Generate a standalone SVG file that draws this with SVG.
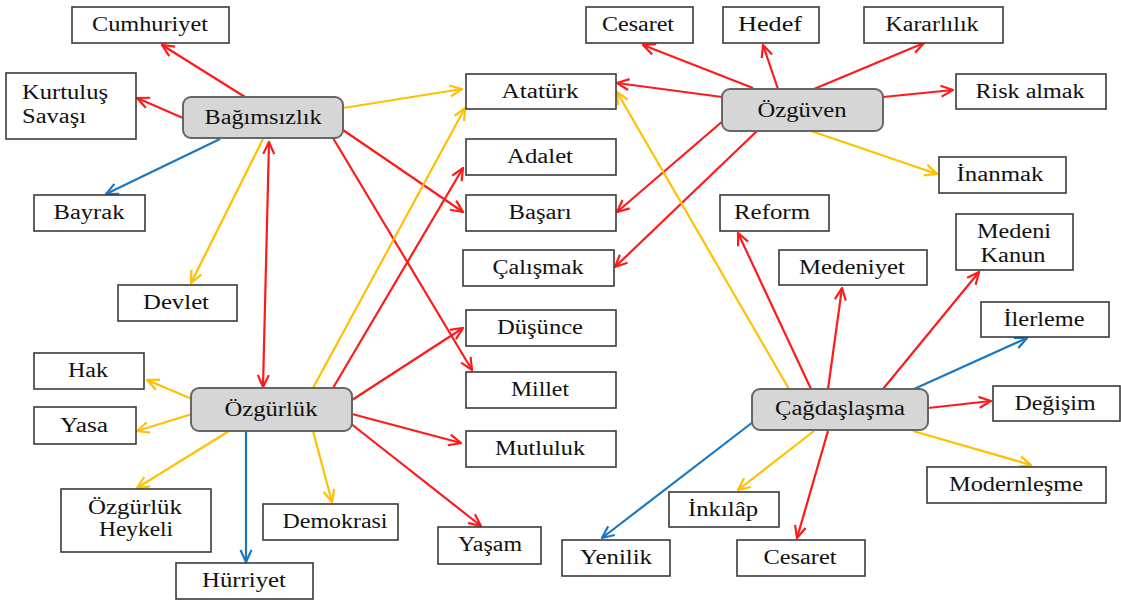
<svg xmlns="http://www.w3.org/2000/svg" width="1121" height="603" viewBox="0 0 1121 603">
<style>
.box{fill:#fff;stroke:#3a3a3a;stroke-width:1.6}
.hub{fill:#d6d6d6;stroke:#666;stroke-width:2}
text{font-size:20px;fill:#111;text-anchor:middle}
.l{text-anchor:start}
.r{stroke:#ff1a1a;stroke-width:2.2;fill:none;marker-end:url(#ar)}
.y{stroke:#ffc000;stroke-width:2.2;fill:none;marker-end:url(#ay)}
.b{stroke:#1a78c2;stroke-width:2.2;fill:none;marker-end:url(#ab)}
</style>
<defs>
<marker id="ar" viewBox="0 0 14 14" refX="13" refY="7" markerWidth="14" markerHeight="14" markerUnits="userSpaceOnUse" orient="auto-start-reverse"><path d="M1,1.5 L13,7 L1,12.5" fill="none" stroke="#ff1a1a" stroke-width="2.2"/></marker>
<marker id="ay" viewBox="0 0 14 14" refX="13" refY="7" markerWidth="14" markerHeight="14" markerUnits="userSpaceOnUse" orient="auto"><path d="M1,1.5 L13,7 L1,12.5" fill="none" stroke="#ffc000" stroke-width="2.2"/></marker>
<marker id="ab" viewBox="0 0 14 14" refX="13" refY="7" markerWidth="14" markerHeight="14" markerUnits="userSpaceOnUse" orient="auto"><path d="M1,1.5 L13,7 L1,12.5" fill="none" stroke="#1a78c2" stroke-width="2.2"/></marker>
</defs>
<rect width="1121" height="603" fill="#fff"/>
<g id="connectors">
<line class="r" x1="245" y1="97" x2="162" y2="45"/>
<line class="r" x1="183" y1="118" x2="137" y2="98"/>
<line class="b" x1="220" y1="139" x2="106" y2="194"/>
<line class="y" x1="263" y1="139" x2="191" y2="283"/>
<line class="r" x1="269" y1="142" x2="263" y2="387" style="marker-start:url(#ar)"/>
<line class="y" x1="343" y1="108" x2="462" y2="89"/>
<line class="r" x1="343" y1="130" x2="463" y2="212"/>
<line class="r" x1="333" y1="138" x2="472" y2="370"/>
<line class="y" x1="192" y1="399" x2="147" y2="380"/>
<line class="y" x1="192" y1="414" x2="137" y2="431"/>
<line class="y" x1="229" y1="431" x2="137" y2="488"/>
<line class="b" x1="246" y1="431" x2="246" y2="562"/>
<line class="y" x1="313" y1="431" x2="332" y2="502"/>
<line class="y" x1="313" y1="388" x2="465" y2="108"/>
<line class="r" x1="333" y1="388" x2="463" y2="168"/>
<line class="r" x1="352" y1="400" x2="463" y2="328"/>
<line class="r" x1="352" y1="414" x2="461" y2="443"/>
<line class="r" x1="350" y1="423" x2="481" y2="526"/>
<line class="r" x1="753" y1="88" x2="643" y2="45"/>
<line class="r" x1="778" y1="89" x2="763" y2="45"/>
<line class="r" x1="814" y1="89" x2="924" y2="43"/>
<line class="r" x1="883" y1="97" x2="953" y2="90"/>
<line class="y" x1="811" y1="131" x2="937" y2="174"/>
<line class="r" x1="722" y1="97" x2="617" y2="83"/>
<line class="r" x1="724" y1="120" x2="617" y2="212"/>
<line class="r" x1="757" y1="131" x2="615" y2="267"/>
<line class="y" x1="789" y1="389" x2="617" y2="92"/>
<line class="r" x1="811" y1="389" x2="738" y2="233"/>
<line class="r" x1="828" y1="389" x2="842" y2="288"/>
<line class="r" x1="883" y1="389" x2="979" y2="272"/>
<line class="b" x1="914" y1="389" x2="1027" y2="338"/>
<line class="r" x1="928" y1="408" x2="991" y2="401"/>
<line class="y" x1="913" y1="431" x2="1031" y2="465"/>
<line class="r" x1="828" y1="431" x2="797" y2="538"/>
<line class="y" x1="814" y1="431" x2="738" y2="490"/>
<line class="b" x1="753" y1="422" x2="602" y2="538"/>
</g>
<g id="nodes" font-family="Liberation Serif, serif">
<g id="n-bagimsizlik"><rect class="hub" x="183" y="97" width="160" height="41" rx="8"/><text x="263" y="124" textLength="117" lengthAdjust="spacingAndGlyphs">Bağımsızlık</text></g>
<g id="n-ozgurluk"><rect class="hub" x="191" y="388" width="161" height="43" rx="8"/><text x="271" y="416" textLength="93" lengthAdjust="spacingAndGlyphs">Özgürlük</text></g>
<g id="n-ozguven"><rect class="hub" x="722" y="89" width="161" height="42" rx="8"/><text x="802" y="117" textLength="89" lengthAdjust="spacingAndGlyphs">Özgüven</text></g>
<g id="n-cagdaslasma"><rect class="hub" x="752" y="389" width="176" height="41" rx="8"/><text x="840" y="415" textLength="130" lengthAdjust="spacingAndGlyphs">Çağdaşlaşma</text></g>
<g id="n-cumhuriyet"><rect class="box" x="72" y="7" width="157" height="36"/><text x="150" y="31" textLength="116" lengthAdjust="spacingAndGlyphs">Cumhuriyet</text></g>
<g id="n-kurtulus"><rect class="box" x="6" y="73" width="130" height="66"/><text class="l" x="22" y="99" textLength="86" lengthAdjust="spacingAndGlyphs">Kurtuluş</text><text class="l" x="22" y="123" textLength="64" lengthAdjust="spacingAndGlyphs">Savaşı</text></g>
<g id="n-bayrak"><rect class="box" x="34" y="195" width="111" height="36"/><text x="89" y="219" textLength="71" lengthAdjust="spacingAndGlyphs">Bayrak</text></g>
<g id="n-devlet"><rect class="box" x="118" y="285" width="119" height="36"/><text x="176" y="309" textLength="66" lengthAdjust="spacingAndGlyphs">Devlet</text></g>
<g id="n-hak"><rect class="box" x="34" y="353" width="110" height="36"/><text x="88" y="377" textLength="40" lengthAdjust="spacingAndGlyphs">Hak</text></g>
<g id="n-yasa"><rect class="box" x="34" y="407" width="102" height="37"/><text x="84" y="432" textLength="48" lengthAdjust="spacingAndGlyphs">Yasa</text></g>
<g id="n-heykel"><rect class="box" x="61" y="489" width="150" height="63"/><text x="135" y="514" textLength="94" lengthAdjust="spacingAndGlyphs">Özgürlük</text><text x="136" y="536" textLength="74" lengthAdjust="spacingAndGlyphs">Heykeli</text></g>
<g id="n-hurriyet"><rect class="box" x="176" y="563" width="137" height="36"/><text x="244" y="587" textLength="84" lengthAdjust="spacingAndGlyphs">Hürriyet</text></g>
<g id="n-demokrasi"><rect class="box" x="263" y="504" width="135" height="36"/><text x="335" y="528" textLength="105" lengthAdjust="spacingAndGlyphs">Demokrasi</text></g>
<g id="n-ataturk"><rect class="box" x="466" y="74" width="150" height="35"/><text x="540" y="98" textLength="77" lengthAdjust="spacingAndGlyphs">Atatürk</text></g>
<g id="n-adalet"><rect class="box" x="466" y="139" width="150" height="36"/><text x="540" y="163" textLength="66" lengthAdjust="spacingAndGlyphs">Adalet</text></g>
<g id="n-basari"><rect class="box" x="466" y="195" width="150" height="36"/><text x="540" y="219" textLength="63" lengthAdjust="spacingAndGlyphs">Başarı</text></g>
<g id="n-calismak"><rect class="box" x="463" y="250" width="151" height="36"/><text x="538" y="274" textLength="91" lengthAdjust="spacingAndGlyphs">Çalışmak</text></g>
<g id="n-dusunce"><rect class="box" x="466" y="310" width="150" height="36"/><text x="540" y="334" textLength="86" lengthAdjust="spacingAndGlyphs">Düşünce</text></g>
<g id="n-millet"><rect class="box" x="466" y="372" width="150" height="36"/><text x="540" y="396" textLength="58" lengthAdjust="spacingAndGlyphs">Millet</text></g>
<g id="n-mutluluk"><rect class="box" x="466" y="431" width="150" height="36"/><text x="540" y="455" textLength="90" lengthAdjust="spacingAndGlyphs">Mutluluk</text></g>
<g id="n-yasam"><rect class="box" x="438" y="527" width="103" height="37"/><text x="490" y="551" textLength="64" lengthAdjust="spacingAndGlyphs">Yaşam</text></g>
<g id="n-yenilik"><rect class="box" x="562" y="540" width="108" height="36"/><text x="616" y="564" textLength="72" lengthAdjust="spacingAndGlyphs">Yenilik</text></g>
<g id="n-inkilap"><rect class="box" x="669" y="492" width="110" height="35"/><text x="723" y="516" textLength="70" lengthAdjust="spacingAndGlyphs">İnkılâp</text></g>
<g id="n-cesaret2"><rect class="box" x="737" y="540" width="128" height="36"/><text x="800" y="564" textLength="73" lengthAdjust="spacingAndGlyphs">Cesaret</text></g>
<g id="n-modernlesme"><rect class="box" x="927" y="467" width="179" height="36"/><text x="1016" y="491" textLength="134" lengthAdjust="spacingAndGlyphs">Modernleşme</text></g>
<g id="n-degisim"><rect class="box" x="993" y="386" width="127" height="35"/><text x="1055" y="410" textLength="81" lengthAdjust="spacingAndGlyphs">Değişim</text></g>
<g id="n-ilerleme"><rect class="box" x="981" y="302" width="128" height="35"/><text x="1044" y="326" textLength="81" lengthAdjust="spacingAndGlyphs">İlerleme</text></g>
<g id="n-medenikanun"><rect class="box" x="956" y="214" width="117" height="56"/><text x="1014" y="238" textLength="74" lengthAdjust="spacingAndGlyphs">Medeni</text><text x="1013" y="262" textLength="65" lengthAdjust="spacingAndGlyphs">Kanun</text></g>
<g id="n-medeniyet"><rect class="box" x="779" y="250" width="148" height="35"/><text x="852" y="274" textLength="106" lengthAdjust="spacingAndGlyphs">Medeniyet</text></g>
<g id="n-reform"><rect class="box" x="720" y="195" width="109" height="36"/><text x="772" y="219" textLength="76" lengthAdjust="spacingAndGlyphs">Reform</text></g>
<g id="n-cesaret1"><rect class="box" x="586" y="7" width="107" height="36"/><text x="638" y="31" textLength="72" lengthAdjust="spacingAndGlyphs">Cesaret</text></g>
<g id="n-hedef"><rect class="box" x="723" y="7" width="96" height="36"/><text x="770" y="31" textLength="64" lengthAdjust="spacingAndGlyphs">Hedef</text></g>
<g id="n-kararlilik"><rect class="box" x="864" y="7" width="139" height="36"/><text x="932" y="31" textLength="93" lengthAdjust="spacingAndGlyphs">Kararlılık</text></g>
<g id="n-riskalmak"><rect class="box" x="956" y="74" width="150" height="35"/><text x="1030" y="98" textLength="109" lengthAdjust="spacingAndGlyphs">Risk almak</text></g>
<g id="n-inanmak"><rect class="box" x="939" y="157" width="127" height="36"/><text x="1000" y="181" textLength="87" lengthAdjust="spacingAndGlyphs">İnanmak</text></g>
</g>
</svg>
